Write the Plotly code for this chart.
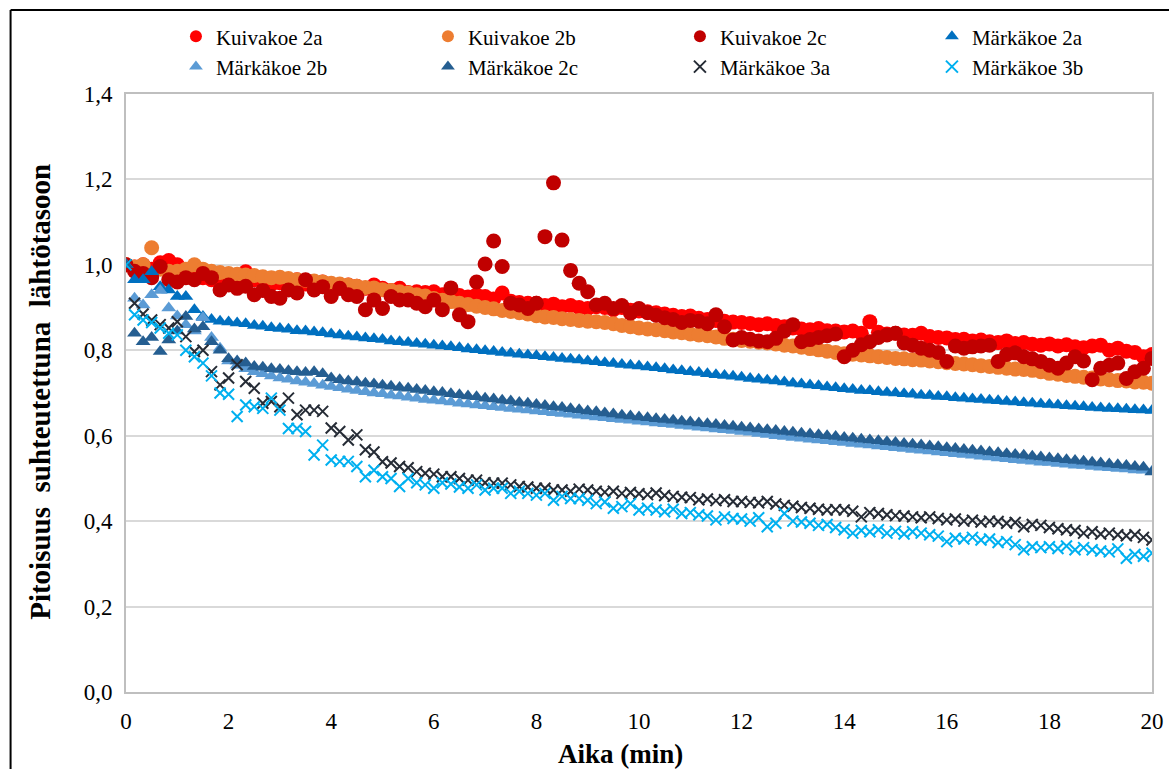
import plotly.graph_objects as go

# Sampling times (s), one reading every 10 seconds for 20 minutes
aika_s = list(range(0, 1201, 10))
aika_min = [s / 60 for s in aika_s]

kuivakoe_2a = [
    1.000, 0.995, 1.000, 0.990, 1.005, 1.010, 1.000, 0.985, 0.975, 0.970, 0.965, 0.970,
    0.965, 0.970, 0.984, 0.965, 0.960, 0.955, 0.958, 0.950, 0.965, 0.955, 0.950, 0.960,
    0.948, 0.945, 0.953, 0.950, 0.945, 0.953, 0.945, 0.940, 0.945, 0.935, 0.937, 0.935,
    0.937, 0.930, 0.935, 0.928, 0.925, 0.930, 0.926, 0.920, 0.934, 0.915, 0.912, 0.910,
    0.910, 0.905, 0.908, 0.902, 0.905, 0.900, 0.898, 0.902, 0.900, 0.895, 0.900, 0.894,
    0.892, 0.890, 0.888, 0.885, 0.882, 0.879, 0.880, 0.875, 0.872, 0.870, 0.868, 0.866,
    0.865, 0.863, 0.860, 0.862, 0.858, 0.855, 0.852, 0.850, 0.848, 0.851, 0.846, 0.845,
    0.843, 0.845, 0.840, 0.867, 0.842, 0.838, 0.840, 0.836, 0.835, 0.840, 0.832, 0.830,
    0.829, 0.825, 0.826, 0.822, 0.824, 0.820, 0.818, 0.822, 0.816, 0.818, 0.814, 0.812,
    0.815, 0.810, 0.813, 0.808, 0.806, 0.810, 0.812, 0.800, 0.805, 0.798, 0.795, 0.785,
    0.790,
]

kuivakoe_2b = [
    1.000, 0.995, 1.000, 1.040, 0.990, 0.985, 0.985, 0.990, 1.000, 0.990, 0.985, 0.982,
    0.980, 0.978, 0.976, 0.975, 0.972, 0.970, 0.971, 0.968, 0.965, 0.964, 0.962, 0.960,
    0.957, 0.955, 0.953, 0.950, 0.947, 0.946, 0.942, 0.940, 0.937, 0.934, 0.930, 0.927,
    0.921, 0.917, 0.914, 0.910, 0.907, 0.903, 0.900, 0.897, 0.893, 0.891, 0.888, 0.885,
    0.881, 0.878, 0.877, 0.874, 0.872, 0.870, 0.868, 0.867, 0.865, 0.862, 0.858, 0.855,
    0.852, 0.850, 0.848, 0.846, 0.843, 0.841, 0.838, 0.836, 0.834, 0.831, 0.828, 0.826,
    0.823, 0.821, 0.819, 0.817, 0.815, 0.812, 0.810, 0.807, 0.804, 0.801, 0.798, 0.795,
    0.792, 0.791, 0.789, 0.787, 0.785, 0.783, 0.781, 0.780, 0.778, 0.777, 0.775, 0.773,
    0.771, 0.769, 0.768, 0.766, 0.764, 0.762, 0.760, 0.758, 0.756, 0.755, 0.753, 0.750,
    0.746, 0.744, 0.741, 0.739, 0.737, 0.735, 0.733, 0.731, 0.729, 0.728, 0.726, 0.725,
    0.723,
]

kuivakoe_2c = [
    1.000, 0.985, 0.980, 0.970, 0.996, 0.965, 0.960, 0.970, 0.965, 0.980, 0.970, 0.941,
    0.953, 0.945, 0.950, 0.930, 0.940, 0.926, 0.922, 0.941, 0.934, 0.965, 0.941, 0.949,
    0.926, 0.945, 0.930, 0.926, 0.895, 0.918, 0.898, 0.926, 0.918, 0.918, 0.910, 0.902,
    0.918, 0.895, 0.946, 0.883, 0.867, 0.960, 1.002, 1.056, 0.996, 0.910, 0.906, 0.898,
    0.910, 1.066, 1.192, 1.058, 0.987, 0.957, 0.937, 0.906, 0.910, 0.898, 0.905, 0.887,
    0.898, 0.888, 0.882, 0.876, 0.872, 0.865, 0.870, 0.868, 0.862, 0.883, 0.855, 0.824,
    0.830, 0.826, 0.822, 0.820, 0.828, 0.845, 0.860, 0.820, 0.825, 0.830, 0.834, 0.838,
    0.785, 0.800, 0.813, 0.820, 0.830, 0.836, 0.840, 0.817, 0.812, 0.805, 0.800, 0.795,
    0.774, 0.810, 0.805, 0.808, 0.810, 0.812, 0.774, 0.790, 0.794, 0.785, 0.780, 0.774,
    0.765, 0.758, 0.770, 0.785, 0.775, 0.731, 0.758, 0.765, 0.770, 0.734, 0.750, 0.758,
    0.781,
]

markakoe_2a = [
    1.000, 0.965, 0.965, 0.984, 0.949, 0.941, 0.926, 0.926, 0.895, 0.879, 0.872, 0.868,
    0.866, 0.864, 0.862, 0.858, 0.856, 0.853, 0.851, 0.849, 0.846, 0.845, 0.843, 0.841,
    0.838, 0.836, 0.833, 0.831, 0.829, 0.827, 0.825, 0.822, 0.820, 0.818, 0.816, 0.814,
    0.812, 0.810, 0.808, 0.806, 0.803, 0.801, 0.799, 0.797, 0.795, 0.793, 0.791, 0.789,
    0.787, 0.785, 0.783, 0.781, 0.779, 0.777, 0.775, 0.773, 0.771, 0.769, 0.767, 0.765,
    0.763, 0.761, 0.759, 0.757, 0.754, 0.752, 0.750, 0.748, 0.745, 0.743, 0.741, 0.739,
    0.737, 0.734, 0.732, 0.730, 0.728, 0.726, 0.723, 0.721, 0.719, 0.717, 0.714, 0.712,
    0.710, 0.708, 0.706, 0.705, 0.703, 0.701, 0.700, 0.698, 0.697, 0.695, 0.694, 0.692,
    0.691, 0.689, 0.688, 0.686, 0.685, 0.683, 0.682, 0.680, 0.679, 0.677, 0.676, 0.674,
    0.673, 0.672, 0.670, 0.669, 0.668, 0.666, 0.665, 0.664, 0.663, 0.662, 0.661, 0.660,
    0.659,
]

markakoe_2b = [
    1.000, 0.922, 0.906, 0.930, 0.940, 0.899, 0.880, 0.860, 0.845, 0.876, 0.830, 0.805,
    0.775, 0.765, 0.757, 0.750, 0.745, 0.740, 0.735, 0.732, 0.728, 0.725, 0.722, 0.718,
    0.715, 0.712, 0.709, 0.706, 0.703, 0.700, 0.698, 0.695, 0.693, 0.690, 0.688, 0.685,
    0.683, 0.681, 0.679, 0.676, 0.674, 0.672, 0.670, 0.668, 0.666, 0.664, 0.662, 0.660,
    0.658, 0.656, 0.654, 0.652, 0.650, 0.648, 0.646, 0.644, 0.642, 0.640, 0.638, 0.636,
    0.634, 0.632, 0.630, 0.628, 0.626, 0.624, 0.622, 0.620, 0.618, 0.616, 0.614, 0.612,
    0.610, 0.608, 0.605, 0.603, 0.600, 0.598, 0.596, 0.594, 0.592, 0.590, 0.588, 0.586,
    0.584, 0.582, 0.580, 0.578, 0.576, 0.574, 0.572, 0.570, 0.568, 0.566, 0.564, 0.562,
    0.560, 0.558, 0.556, 0.554, 0.552, 0.550, 0.548, 0.546, 0.544, 0.542, 0.540, 0.538,
    0.537, 0.535, 0.533, 0.531, 0.530, 0.528, 0.526, 0.525, 0.523, 0.522, 0.520, 0.519,
    0.517,
]

markakoe_2c = [
    1.000, 0.840, 0.820, 0.830, 0.797, 0.824, 0.845, 0.879, 0.850, 0.855, 0.820, 0.800,
    0.780, 0.775, 0.770, 0.762, 0.760, 0.757, 0.755, 0.752, 0.750, 0.748, 0.750, 0.745,
    0.735, 0.731, 0.728, 0.726, 0.723, 0.721, 0.718, 0.716, 0.713, 0.711, 0.708, 0.706,
    0.703, 0.701, 0.698, 0.696, 0.693, 0.691, 0.688, 0.686, 0.683, 0.681, 0.678, 0.676,
    0.673, 0.671, 0.668, 0.666, 0.663, 0.661, 0.658, 0.656, 0.653, 0.651, 0.648, 0.646,
    0.644, 0.642, 0.640, 0.638, 0.636, 0.634, 0.632, 0.630, 0.628, 0.626, 0.624, 0.622,
    0.620, 0.618, 0.616, 0.614, 0.612, 0.610, 0.608, 0.606, 0.604, 0.602, 0.600, 0.598,
    0.596, 0.594, 0.592, 0.590, 0.588, 0.586, 0.584, 0.582, 0.580, 0.578, 0.576, 0.574,
    0.572, 0.570, 0.568, 0.566, 0.564, 0.562, 0.560, 0.558, 0.556, 0.554, 0.552, 0.550,
    0.548, 0.546, 0.544, 0.542, 0.540, 0.538, 0.536, 0.534, 0.532, 0.530, 0.528, 0.526,
    0.515,
]

markakoe_3a = [
    1.000, 0.910, 0.885, 0.871, 0.860, 0.852, 0.867, 0.832, 0.797, 0.800, 0.750, 0.719,
    0.735, 0.766, 0.727, 0.711, 0.676, 0.680, 0.668, 0.688, 0.649, 0.660, 0.660, 0.657,
    0.618, 0.610, 0.590, 0.602, 0.567, 0.562, 0.539, 0.536, 0.528, 0.525, 0.516, 0.512,
    0.510, 0.504, 0.504, 0.500, 0.496, 0.496, 0.490, 0.489, 0.489, 0.485, 0.481, 0.480,
    0.477, 0.477, 0.473, 0.473, 0.470, 0.475, 0.473, 0.470, 0.468, 0.470, 0.465, 0.467,
    0.464, 0.462, 0.466, 0.460, 0.458, 0.456, 0.455, 0.450, 0.452, 0.448, 0.450, 0.446,
    0.446, 0.444, 0.443, 0.446, 0.440, 0.437, 0.435, 0.432, 0.430, 0.428, 0.426, 0.427,
    0.426, 0.423, 0.410, 0.420, 0.418, 0.415, 0.413, 0.412, 0.410, 0.408, 0.410, 0.406,
    0.403, 0.405, 0.400, 0.402, 0.398, 0.400, 0.399, 0.395, 0.397, 0.387, 0.392, 0.390,
    0.385, 0.382, 0.380, 0.378, 0.372, 0.375, 0.370, 0.372, 0.368, 0.366, 0.368, 0.362,
    0.356,
]

markakoe_3b = [
    1.000, 0.883, 0.871, 0.865, 0.852, 0.840, 0.836, 0.800, 0.785, 0.770, 0.740, 0.700,
    0.697, 0.645, 0.672, 0.668, 0.664, 0.688, 0.660, 0.617, 0.617, 0.610, 0.555, 0.578,
    0.543, 0.540, 0.540, 0.528, 0.504, 0.519, 0.504, 0.500, 0.481, 0.500, 0.490, 0.485,
    0.477, 0.490, 0.487, 0.480, 0.477, 0.485, 0.473, 0.477, 0.477, 0.465, 0.470, 0.465,
    0.461, 0.465, 0.449, 0.458, 0.453, 0.453, 0.449, 0.441, 0.445, 0.430, 0.434, 0.441,
    0.426, 0.430, 0.426, 0.422, 0.428, 0.418, 0.420, 0.415, 0.412, 0.403, 0.410, 0.406,
    0.405, 0.400, 0.408, 0.387, 0.395, 0.418, 0.400, 0.398, 0.395, 0.390, 0.392, 0.385,
    0.380, 0.372, 0.378, 0.375, 0.380, 0.372, 0.376, 0.370, 0.375, 0.372, 0.368, 0.365,
    0.352, 0.360, 0.358, 0.362, 0.356, 0.358, 0.350, 0.352, 0.345, 0.333, 0.340, 0.338,
    0.340, 0.336, 0.342, 0.333, 0.338, 0.333, 0.330, 0.328, 0.335, 0.313, 0.322, 0.318,
    0.325,
]

series = [
    ("Kuivakoe 2a", kuivakoe_2a, "#FF0000", "circle"),
    ("Kuivakoe 2b", kuivakoe_2b, "#ED7D31", "circle"),
    ("Kuivakoe 2c", kuivakoe_2c, "#C00000", "circle"),
    ("Märkäkoe 2a", markakoe_2a, "#0070C0", "triangle-up"),
    ("Märkäkoe 2b", markakoe_2b, "#5B9BD5", "triangle-up"),
    ("Märkäkoe 2c", markakoe_2c, "#255E91", "triangle-up"),
    ("Märkäkoe 3a", markakoe_3a, "#262C36", "x-thin"),
    ("Märkäkoe 3b", markakoe_3b, "#00B0F0", "x-thin"),
]

FONT = "Liberation Serif, Times New Roman, serif"

fig = go.Figure()
for name, values, color, symbol in series:
    if symbol == "circle":
        marker = dict(symbol=symbol, size=15, color=color, line=dict(width=0))
    elif symbol == "triangle-up":
        marker = dict(symbol=symbol, size=13, color=color, line=dict(width=0))
    else:
        marker = dict(symbol=symbol, size=11, color=color,
                      line=dict(width=2, color=color))
    fig.add_trace(go.Scatter(x=aika_min, y=values, mode="markers",
                             name=name, marker=marker))

fig.update_layout(
    width=1169,
    height=769,
    margin=dict(l=126, r=17, t=94, b=77, autoexpand=False),
    paper_bgcolor="white",
    plot_bgcolor="white",
    separators=", ",
    font=dict(family=FONT, size=21, color="black"),
    showlegend=True,
    legend=dict(
        orientation="h",
        xref="container", yref="container",
        x=0.1505, xanchor="left",
        y=0.979, yanchor="top",
        entrywidth=207, entrywidthmode="pixels",
        itemwidth=30,
        font=dict(family=FONT, size=21, color="black"),
        bgcolor="rgba(0,0,0,0)",
        itemsizing="constant",
    ),
    xaxis=dict(
        range=[0, 20],
        tickmode="array",
        tickvals=[0, 2, 4, 6, 8, 10, 12, 14, 16, 18, 20],
        ticks="",
        ticklabelstandoff=7,
        showgrid=False,
        zeroline=False,
        showline=True,
        linecolor="#BFBFBF",
        linewidth=2,
        mirror=True,
        tickfont=dict(family=FONT, size=23),
    ),
    yaxis=dict(
        range=[0, 1.4],
        tickmode="array",
        tickvals=[0, 0.2, 0.4, 0.6, 0.8, 1.0, 1.2, 1.4],
        tickformat=".1f",
        ticks="",
        ticklabelstandoff=7,
        showgrid=True,
        gridcolor="#D9D9D9",
        gridwidth=1.5,
        zeroline=False,
        showline=True,
        linecolor="#BFBFBF",
        linewidth=2,
        mirror=True,
        tickfont=dict(family=FONT, size=23),
    ),
    annotations=[
        dict(text="<b>Aika (min)</b>", xref="paper", yref="paper",
             x=0.4815, y=-0.1045, xanchor="center", yanchor="middle",
             showarrow=False, font=dict(family=FONT, size=27)),
        dict(text="<b>Pitoisuus&nbsp; suhteutettuna&nbsp; lähtötasoon</b>",
             xref="paper", yref="paper", textangle=-90,
             x=-0.0845, y=0.5025, xanchor="center", yanchor="middle",
             showarrow=False, font=dict(family=FONT, size=29)),
    ],
    shapes=[
        dict(type="line", xref="paper", yref="paper",
             x0=-0.1125, x1=-0.1125, y0=1.1405, y1=-0.2,
             line=dict(color="black", width=2)),
        dict(type="line", xref="paper", yref="paper",
             x0=-0.1125, x1=1.1, y0=1.1405, y1=1.1405,
             line=dict(color="black", width=2)),
    ],
)

fig.write_html("out.html")
